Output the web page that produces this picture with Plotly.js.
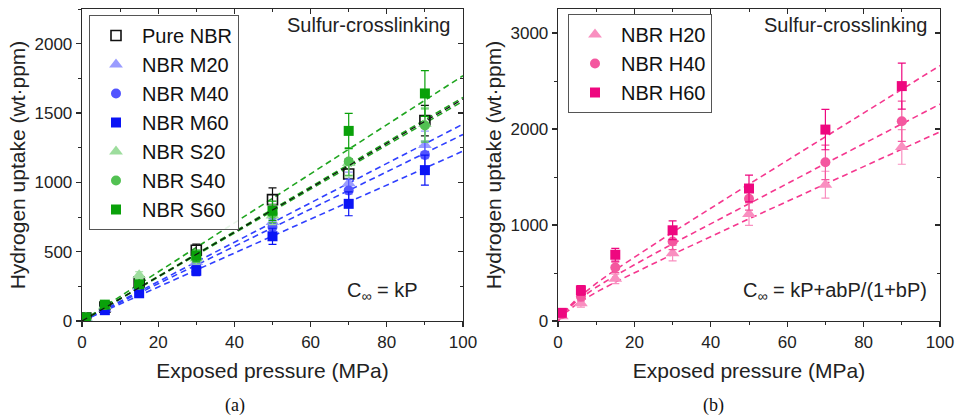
<!DOCTYPE html>
<html><head><meta charset="utf-8">
<script src="https://cdn.plot.ly/plotly-3.0.1.min.js"></script>
<style>html,body{margin:0;padding:0;background:#fff}#chart{width:955px;height:420px}</style>
</head><body><div id="chart"></div>
<script>
// ---- Data ----
const pressure = [1, 6, 15, 30, 50, 70, 90];

// Panel (a)
const pureNBR = [22, 100, 280, 510, 875, 1060, 1445];
const pureErr = [5, 15, 30, 45, 85, 110, 110];
const nbrM20 = [20, 88, 247, 426, 714, 994, 1270];
const m20Err = [5, 10, 20, 35, 60, 80, 100];
const nbrM40 = [18, 82, 223, 392, 678, 942, 1198];
const m40Err = [5, 10, 20, 35, 60, 80, 100];
const nbrM60 = [16, 78, 200, 362, 611, 845, 1088];
const m60Err = [5, 10, 20, 35, 58, 86, 108];
const nbrS20 = [25, 110, 330, 450, 760, 1140, 1420];
const s20Err = [5, 12, 25, 40, 65, 100, 120];
const nbrS40 = [24, 115, 262, 462, 775, 1150, 1410];
const s40Err = [5, 12, 25, 40, 65, 100, 120];
const nbrS60 = [26, 118, 265, 472, 795, 1371, 1641];
const s60Err = [5, 12, 25, 40, 70, 127, 165];

// fitted lines C = kP (panel a), endpoints read at 0 and 100 MPa
const fitXLeft = [0, 100];
const fitPure = [0, 1600];
const fitM20 = [0, 1420];
const fitM40 = [0, 1345];
const fitM60 = [0, 1225];
const fitS20 = [0, 1585];
const fitS40 = [0, 1612];
const fitS60 = [0, 1769];

// Panel (b)
const nbrH20 = [50, 185, 439, 707, 1114, 1420, 1813];
const h20Err = [20, 40, 50, 80, 117, 140, 180];
const nbrH40 = [70, 255, 558, 829, 1274, 1653, 2081];
const h40Err = [25, 45, 55, 85, 120, 180, 210];
const nbrH60 = [85, 320, 690, 945, 1380, 1994, 2447];
const h60Err = [30, 50, 66, 97, 140, 210, 240];

// fitted curves C = kP + abP/(1+bP) (panel b)
const fitXRight = [0, 2, 5, 10, 15, 20, 30, 50, 70, 90, 100];
const fitH20 = [0, 87, 180, 300, 405, 504, 694, 1064, 1428, 1791, 1971];
const fitH40 = [0, 104, 213, 352, 472, 586, 804, 1225, 1640, 2053, 2259];
const fitH60 = [0, 112, 233, 392, 533, 666, 924, 1425, 1920, 2413, 2660];

const xTickVals = [0, 20, 40, 60, 80, 100];
const yTickValsA = [0, 500, 1000, 1500, 2000];
const yTickValsB = [0, 1000, 2000, 3000];

// ---- Styling ----
const FONT = 'Liberation Sans, Arial, sans-serif';
const AX = '#2a2a2a';

function markerTrace(name, y, err, color, symbol, xa, ya, leg) {
  const open = symbol.indexOf('open') > 0;
  return {
    type: 'scatter', mode: 'markers', name: name, x: pressure, y: y,
    xaxis: xa, yaxis: ya, legend: leg,
    marker: { symbol: symbol, size: symbol.indexOf('triangle') === 0 ? 12 : 10, color: color,
              line: { color: color, width: open ? 1.6 : 0 } },
    error_y: { type: 'data', array: err, visible: true, color: color, thickness: 1.2, width: 4 }
  };
}
function fitTrace(x, y, color, xa, ya, w) {
  return { type: 'scatter', mode: 'lines', x: x, y: y, xaxis: xa, yaxis: ya,
           showlegend: false, hoverinfo: 'skip',
           line: { color: color, width: w || 1.6, dash: '6px,4px' } };
}

const blueL = '#3040ff', greenL = '#1fa51f', pinkL = '#f5388f';

const traces = [
  fitTrace(fitXLeft, fitM20, blueL, 'x', 'y'),
  fitTrace(fitXLeft, fitM40, blueL, 'x', 'y'),
  fitTrace(fitXLeft, fitM60, blueL, 'x', 'y'),
  fitTrace(fitXLeft, fitS20, greenL, 'x', 'y'),
  fitTrace(fitXLeft, fitS40, greenL, 'x', 'y'),
  fitTrace(fitXLeft, fitS60, greenL, 'x', 'y'),
  markerTrace('Pure NBR', pureNBR, pureErr, '#111111', 'square-open', 'x', 'y', 'legend'),
  markerTrace('NBR M20', nbrM20, m20Err, '#9a9cff', 'triangle-up', 'x', 'y', 'legend'),
  markerTrace('NBR M40', nbrM40, m40Err, '#5254ff', 'circle', 'x', 'y', 'legend'),
  markerTrace('NBR M60', nbrM60, m60Err, '#0a14f5', 'square', 'x', 'y', 'legend'),
  markerTrace('NBR S20', nbrS20, s20Err, '#9ddd9d', 'triangle-up', 'x', 'y', 'legend'),
  markerTrace('NBR S40', nbrS40, s40Err, '#52c152', 'circle', 'x', 'y', 'legend'),
  markerTrace('NBR S60', nbrS60, s60Err, '#0aa10a', 'square', 'x', 'y', 'legend'),
  fitTrace(fitXLeft, fitPure, '#111111', 'x', 'y', 1.2),

  fitTrace(fitXRight, fitH20, pinkL, 'x2', 'y2'),
  fitTrace(fitXRight, fitH40, pinkL, 'x2', 'y2'),
  fitTrace(fitXRight, fitH60, pinkL, 'x2', 'y2'),
  markerTrace('NBR H20', nbrH20, h20Err, '#f98fc0', 'triangle-up', 'x2', 'y2', 'legend2'),
  markerTrace('NBR H40', nbrH40, h40Err, '#f4579f', 'circle', 'x2', 'y2', 'legend2'),
  markerTrace('NBR H60', nbrH60, h60Err, '#ee077f', 'square', 'x2', 'y2', 'legend2'),

  // dummy traces to anchor the mirrored (inside-tick) frame axes
  { type: 'scatter', x: [null], y: [null], xaxis: 'x3', yaxis: 'y3', showlegend: false, hoverinfo: 'skip' },
  { type: 'scatter', x: [null], y: [null], xaxis: 'x4', yaxis: 'y4', showlegend: false, hoverinfo: 'skip' }
];

const domXA = [82 / 955, 463 / 955];
const domXB = [558 / 955, 940 / 955];
const domY = [99 / 420, 411 / 420];

function xAxis(dom, anchor) {
  return {
    domain: dom, anchor: anchor, range: [0, 100], tickvals: xTickVals,
    ticks: 'outside', ticklen: 5, tickwidth: 1.2, tickcolor: AX,
    showline: true, linecolor: AX, linewidth: 1.3, mirror: true,
    showgrid: false, zeroline: false, fixedrange: true,
    minor: { dtick: 10, tick0: 0, ticks: 'outside', ticklen: 3, tickwidth: 1, tickcolor: AX },
    tickfont: { family: FONT, size: 17, color: '#222' },
    title: { text: 'Exposed pressure (MPa)', font: { family: FONT, size: 21, color: '#222' }, standoff: 12 }
  };
}
function yAxis(dom, anchor, range, tv, mdt) {
  return {
    domain: dom, anchor: anchor, range: range, tickvals: tv,
    ticks: 'outside', ticklen: 5, tickwidth: 1.2, tickcolor: AX,
    showline: true, linecolor: AX, linewidth: 1.3, mirror: true,
    showgrid: false, zeroline: false, fixedrange: true,
    minor: { dtick: mdt, tick0: 0, ticks: 'outside', ticklen: 3, tickwidth: 1, tickcolor: AX },
    tickfont: { family: FONT, size: 17, color: '#222' },
    title: { text: 'Hydrogen uptake (wt·ppm)', font: { family: FONT, size: 21, color: '#222' }, standoff: 3 }
  };
}
function mirrorX(over, anchor) {
  return { overlaying: over, anchor: anchor, side: 'top', range: [0, 100], tickvals: xTickVals,
           ticks: 'inside', ticklen: 5, tickwidth: 1.2, tickcolor: AX, showticklabels: false,
           showline: false, showgrid: false, zeroline: false, fixedrange: true,
           minor: { dtick: 10, tick0: 0, ticks: 'inside', ticklen: 3, tickwidth: 1, tickcolor: AX } };
}
function mirrorY(over, anchor, range, tv, mdt) {
  return { overlaying: over, anchor: anchor, side: 'right', range: range, tickvals: tv,
           ticks: 'inside', ticklen: 5, tickwidth: 1.2, tickcolor: AX, showticklabels: false,
           showline: false, showgrid: false, zeroline: false, fixedrange: true,
           minor: { dtick: mdt, tick0: 0, ticks: 'inside', ticklen: 3, tickwidth: 1, tickcolor: AX } };
}

const legendStyle = {
  xanchor: 'left', yanchor: 'top', bgcolor: 'rgba(255,255,255,0.9)',
  bordercolor: '#555', borderwidth: 1, itemwidth: 42,
  font: { family: FONT, size: 20, color: '#111' }, tracegroupgap: 0
};

const annFont = { family: FONT, size: 20, color: '#222' };

const layout = {
  width: 955, height: 420, margin: { l: 0, r: 0, t: 0, b: 0 },
  paper_bgcolor: '#fff', plot_bgcolor: '#fff', showlegend: true,
  xaxis: xAxis(domXA, 'y'),
  yaxis: yAxis(domY, 'x', [0, 2250], yTickValsA, 250),
  xaxis2: xAxis(domXB, 'y2'),
  yaxis2: yAxis(domY, 'x2', [0, 3250], yTickValsB, 500),
  xaxis3: mirrorX('x', 'y3'),
  yaxis3: mirrorY('y', 'x3', [0, 2250], yTickValsA, 250),
  xaxis4: mirrorX('x2', 'y4'),
  yaxis4: mirrorY('y2', 'x4', [0, 3250], yTickValsB, 500),
  legend: Object.assign({}, legendStyle, { x: 89 / 955, y: 1 - 15 / 420 }),
  legend2: Object.assign({}, legendStyle, { x: 568 / 955, y: 1 - 14 / 420 }),
  annotations: [
    { xref: 'paper', yref: 'paper', x: 452 / 955, y: 1 - 25 / 420, xanchor: 'right', yanchor: 'middle',
      text: 'Sulfur-crosslinking', showarrow: false, font: annFont },
    { xref: 'paper', yref: 'paper', x: 929 / 955, y: 1 - 25 / 420, xanchor: 'right', yanchor: 'middle',
      text: 'Sulfur-crosslinking', showarrow: false, font: annFont },
    { xref: 'paper', yref: 'paper', x: 345 / 955, y: 1 - 291 / 420, xanchor: 'left', yanchor: 'middle',
      text: 'C<sub>∞</sub> = kP', showarrow: false, font: annFont },
    { xref: 'paper', yref: 'paper', x: 741 / 955, y: 1 - 291 / 420, xanchor: 'left', yanchor: 'middle',
      text: 'C<sub>∞</sub> = kP+abP/(1+bP)', showarrow: false, font: annFont },
    { xref: 'paper', yref: 'paper', x: 235 / 955, y: 1 - 405 / 420, xanchor: 'center', yanchor: 'middle',
      text: '(a)', showarrow: false, font: { family: 'Liberation Serif, Times New Roman, serif', size: 18, color: '#111' } },
    { xref: 'paper', yref: 'paper', x: 713 / 955, y: 1 - 405 / 420, xanchor: 'center', yanchor: 'middle',
      text: '(b)', showarrow: false, font: { family: 'Liberation Serif, Times New Roman, serif', size: 18, color: '#111' } }
  ]
};

Plotly.newPlot('chart', traces, layout, { displayModeBar: false, staticPlot: true });
</script>
</body></html>
